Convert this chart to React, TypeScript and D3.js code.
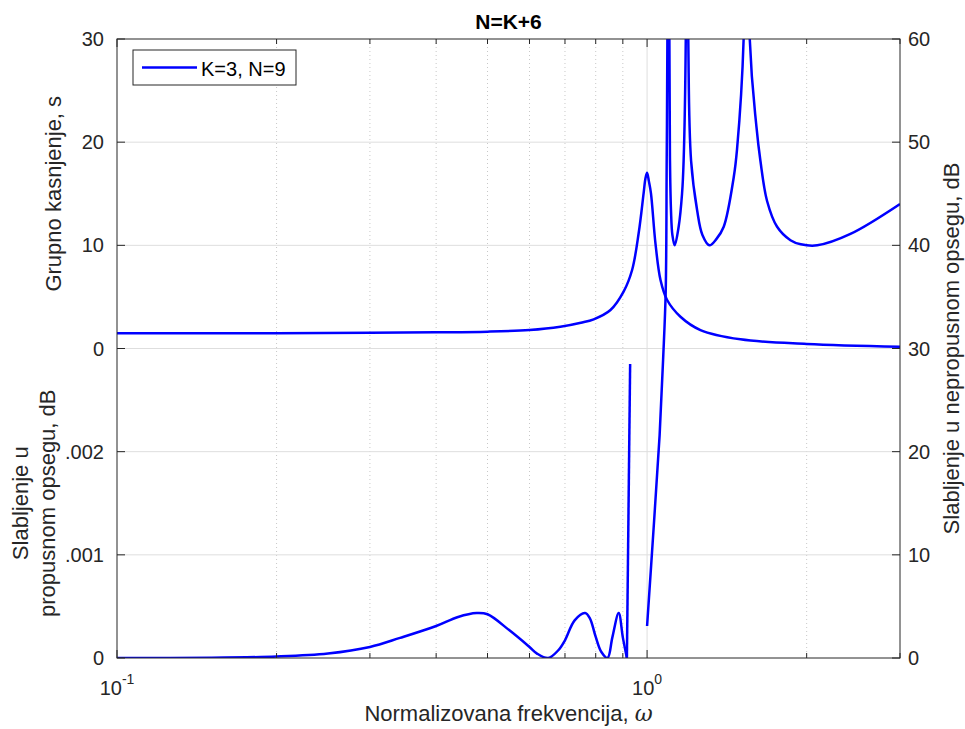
import React from 'react';
import * as d3 from 'd3';

// ---------- data ----------
const groupOmega = [0.1, 0.2, 0.3, 0.4, 0.5, 0.6, 0.686, 0.75, 0.793, 0.853, 0.903, 0.937, 0.964, 0.985, 0.993, 1.0, 1.008, 1.017, 1.037, 1.06, 1.091, 1.156, 1.261, 1.5, 2.0, 3.0];
const groupDelay = [1.47, 1.49, 1.53, 1.57, 1.63, 1.79, 2.11, 2.5, 2.83, 3.73, 5.51, 7.61, 11.17, 15.04, 16.5, 17.04, 16.2, 15.04, 10.2, 6.64, 4.7, 3.08, 1.79, 0.89, 0.44, 0.17];

const passOmega = [0.1, 0.15, 0.2, 0.25, 0.3, 0.342, 0.4, 0.44, 0.477, 0.5, 0.55, 0.6, 0.62, 0.651, 0.68, 0.7, 0.73, 0.764, 0.78, 0.8, 0.82, 0.842, 0.86, 0.884, 0.9, 0.916, 0.929];
const passAtten = [0, 0.000002, 0.0000145, 0.0000436, 0.000107, 0.000195, 0.00031, 0.000398, 0.000436, 0.000424, 0.000268, 0.000107, 0.000043, 0, 0.000075, 0.000172, 0.000365, 0.000436, 0.000385, 0.000204, 0.000058, 0, 0.0002, 0.000436, 0.0002, 0, 0.00285];

const stopOmega = [1.0, 1.031, 1.056, 1.072, 1.0842, 1.0889, 1.0922, 1.097, 1.1017, 1.1046, 1.1094, 1.1162, 1.1274, 1.147, 1.164, 1.172, 1.183, 1.189, 1.196, 1.2106, 1.2428, 1.2717, 1.311, 1.351, 1.395, 1.457, 1.478, 1.521, 1.542, 1.562, 1.608, 1.636, 1.684, 1.759, 1.864, 1.95, 2.094, 2.419, 3.0];
const stopAtten = [3.1, 13.3, 21.6, 28.9, 35.5, 48.2, 60, 150, 60, 48.2, 43.4, 41.0, 40.0, 41.8, 45.0, 48.2, 60, 150, 60, 48.2, 43.4, 41.0, 40.0, 40.6, 41.8, 46.6, 49.3, 60, 150, 60, 51.5, 48.2, 44.3, 41.8, 40.5, 40.1, 40.0, 41.1, 44.0];

const groupTicks = [0, 10, 20, 30];
const passTicks = [0, 0.001, 0.002];
const passTickLabels = ['0', '.001', '.002'];
const stopTicks = [0, 10, 20, 30, 40, 50, 60];
const xMajor = [0.1, 1];
const xMajorExp = ['-1', '0'];
const xMinor = [0.2, 0.3, 0.4, 0.5, 0.6, 0.7, 0.8, 0.9, 2, 3];

const titleText = 'N=K+6';
const legendLabel = 'K=3, N=9';
const xLabel = 'Normalizovana frekvencija, ';
const groupLabel = 'Grupno kasnjenje, s';
const passLabel = ['Slabljenje u', 'propusnom opsegu, dB'];
const stopLabel = 'Slabljenje u nepropusnom opsegu, dB';

// ---------- layout ----------
const W = 965;
const H = 729;
const L = 117;
const R = 900;
const T = 39;
const B = 658;
const MID = (T + B) / 2;
const AX = '#262626';
const FONT = '"Liberation Sans", Arial, Helvetica, sans-serif';
const BLUE = '#0000ff';

export default function App() {
  const x = d3.scaleLog().domain([0.1, 3]).range([L, R]);
  const yG = d3.scaleLinear().domain([0, 30]).range([MID, T]);
  const yP = d3.scaleLinear().domain([0, 0.003]).range([B, MID]);
  const yS = d3.scaleLinear().domain([0, 60]).range([B, T]);

  const smooth = d3.curveCatmullRom.alpha(0.5);
  const gPts = groupOmega.map((w, i) => [x(w), yG(groupDelay[i])] as [number, number]);
  const pPts = passOmega.map((w, i) => [x(w), yP(passAtten[i])] as [number, number]);
  const sPts = stopOmega.map((w, i) => [x(w), yS(stopAtten[i])] as [number, number]);
  const lineSmooth = d3.line().curve(smooth);
  const lineStraight = d3.line();
  const lastZero = pPts.length - 2;

  const leftTicks = [
    ...groupTicks.map((v) => ({ y: yG(v), label: String(v) })),
    ...passTicks.map((v, i) => ({ y: yP(v), label: passTickLabels[i] })),
  ];

  return (
    <svg width={W} height={H} style={{ position: 'absolute', left: 0, top: 0, display: 'block', background: '#fff' }} fontFamily={FONT}>
      <defs>
        <clipPath id="plotclip">
          <rect x={L} y={T} width={R - L} height={B - T} />
        </clipPath>
      </defs>
      <rect x={0} y={0} width={W} height={H} fill="#fff" />

      {/* grid */}
      {xMinor.filter((v) => x(v) < R - 1).map((v) => (
        <line key={'gm' + v} x1={x(v)} x2={x(v)} y1={T} y2={B} stroke="#c8c8c8" strokeWidth={1} strokeDasharray="1 3" />
      ))}
      {xMajor.filter((v) => x(v) > L + 1).map((v) => (
        <line key={'gM' + v} x1={x(v)} x2={x(v)} y1={T} y2={B} stroke="#dedede" strokeWidth={1} />
      ))}
      {leftTicks.filter((t) => t.y > T + 1 && t.y < B - 1).map((t, i) => (
        <line key={'gh' + i} x1={L} x2={R} y1={t.y} y2={t.y} stroke="#dedede" strokeWidth={1} />
      ))}

      {/* curves */}
      <g clipPath="url(#plotclip)" fill="none" stroke={BLUE} strokeWidth={2.5} strokeLinejoin="round">
        <path d={lineSmooth(gPts) || ''} />
        <path d={lineSmooth(pPts.slice(0, lastZero + 1)) || ''} />
        <path d={lineStraight(pPts.slice(lastZero)) || ''} />
        <path d={lineSmooth(sPts) || ''} />
      </g>

      {/* axes box */}
      <rect x={L} y={T} width={R - L} height={B - T} fill="none" stroke={AX} strokeWidth={1} />

      {/* x ticks */}
      {xMajor.map((v) => (
        <g key={'xt' + v}>
          <line x1={x(v)} x2={x(v)} y1={B} y2={B - 8} stroke={AX} />
          <line x1={x(v)} x2={x(v)} y1={T} y2={T + 8} stroke={AX} />
        </g>
      ))}
      {xMinor.map((v) => (
        <g key={'xm' + v}>
          <line x1={x(v)} x2={x(v)} y1={B} y2={B - 5} stroke={AX} />
          <line x1={x(v)} x2={x(v)} y1={T} y2={T + 5} stroke={AX} />
        </g>
      ))}
      {xMajor.map((v, i) => (
        <text key={'xl' + v} x={x(v)} y={695} textAnchor="middle" fontSize={20} fill={AX}>
          10<tspan fontSize={14} dy={-11}>{xMajorExp[i]}</tspan>
        </text>
      ))}

      {/* left ticks */}
      {leftTicks.map((t, i) => (
        <g key={'lt' + i}>
          <line x1={L} x2={L + 8} y1={t.y} y2={t.y} stroke={AX} />
          <text x={L - 13} y={t.y + 7} textAnchor="end" fontSize={20} fill={AX}>{t.label}</text>
        </g>
      ))}

      {/* right ticks */}
      {stopTicks.map((v) => (
        <g key={'rt' + v}>
          <line x1={R} x2={R - 8} y1={yS(v)} y2={yS(v)} stroke={AX} />
          <text x={R + 8} y={yS(v) + 7} textAnchor="start" fontSize={20} fill={AX}>{v}</text>
        </g>
      ))}

      {/* labels */}
      <text x={(L + R) / 2} y={29} textAnchor="middle" fontSize={21} fontWeight="bold" fill="#000">{titleText}</text>
      <text x={(L + R) / 2} y={721} textAnchor="middle" fontSize={22} fill={AX}>
        {xLabel}<tspan fontFamily='"DejaVu Serif", "Liberation Serif", serif' fontStyle="italic">ω</tspan>
      </text>
      <text transform={`translate(61,${(T + MID) / 2}) rotate(-90)`} textAnchor="middle" fontSize={22} fill={AX}>{groupLabel}</text>
      <text transform={`translate(28,${(MID + B) / 2}) rotate(-90)`} textAnchor="middle" fontSize={22} fill={AX}>{passLabel[0]}</text>
      <text transform={`translate(55,${(MID + B) / 2}) rotate(-90)`} textAnchor="middle" fontSize={22} fill={AX}>{passLabel[1]}</text>
      <text transform={`translate(959,${MID}) rotate(-90)`} textAnchor="middle" fontSize={22} fill={AX}>{stopLabel}</text>

      {/* legend */}
      <g>
        <rect x={133} y={50} width={163} height={35} fill="#fff" stroke={AX} strokeWidth={1} />
        <line x1={142} x2={197} y1={67.5} y2={67.5} stroke={BLUE} strokeWidth={2.5} />
        <text x={201} y={76} fontSize={20} fill="#000">{legendLabel}</text>
      </g>
    </svg>
  );
}
